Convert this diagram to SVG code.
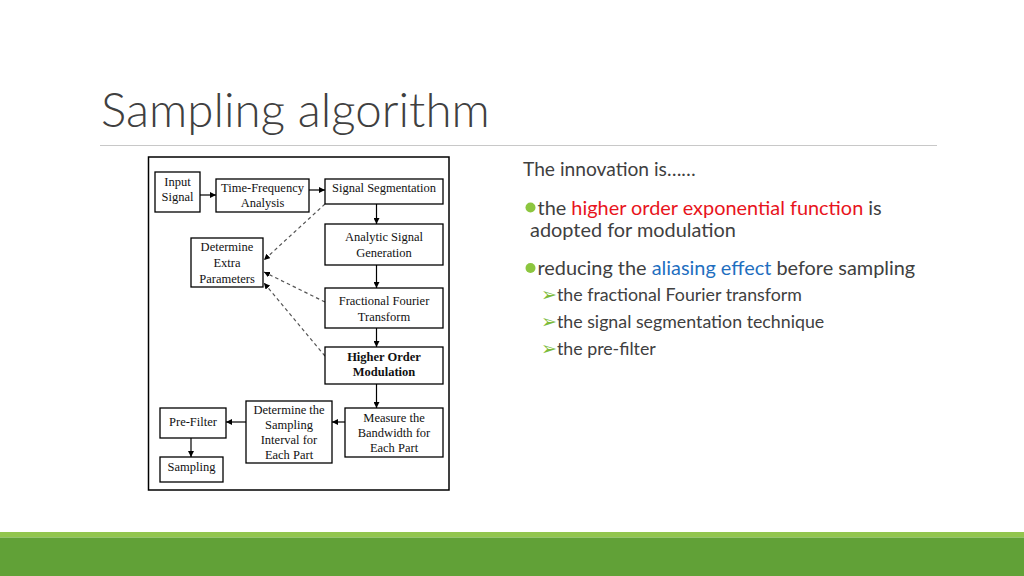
<svg xmlns="http://www.w3.org/2000/svg" width="1024" height="576" viewBox="0 0 1024 576">
<style>
.title{font-family:Lato,"Open Sans",sans-serif;font-weight:300;font-size:47.5px;fill:#404040}
.box{fill:#fff;stroke:#000;stroke-width:1.3}
.lbl{font-family:"Liberation Serif","Times New Roman",serif;font-size:12.5px;fill:#111;text-anchor:middle}
.bold{font-weight:bold}
.conn{stroke:#000;stroke-width:1.2;fill:none}
.dash{stroke:#555;stroke-width:1.2;fill:none;stroke-dasharray:3.5 3}
.body{font-family:Lato,"Open Sans",sans-serif;fill:#404040}
.red{fill:#e8141c}
.blue{fill:#1f6fbf}
.arr{fill:#7cbb3a;font-family:"DejaVu Sans",sans-serif}
</style>
<defs>
<marker id="ah" viewBox="0 0 10 10" refX="10" refY="5" markerWidth="6" markerHeight="6" markerUnits="userSpaceOnUse" orient="auto">
<path d="M0,0 L10,5 L0,10 z" fill="#000"/>
</marker>
</defs>
<rect width="1024" height="576" fill="#fff"/>
<text class="title" x="101" y="127">Sampling algorithm</text>
<line x1="100" y1="145.5" x2="937" y2="145.5" stroke="#c8c8c8" stroke-width="1.2"/>

<rect x="148.5" y="157" width="300.5" height="333" fill="#fff" stroke="#000" stroke-width="1.5"/>

<g id="connectors">
<line class="conn" x1="200" y1="195" x2="216" y2="195" marker-end="url(#ah)"/>
<line class="conn" x1="309" y1="190" x2="325" y2="190" marker-end="url(#ah)"/>
<line class="conn" x1="376.5" y1="204" x2="376.5" y2="224" marker-end="url(#ah)"/>
<line class="conn" x1="376.5" y1="265" x2="376.5" y2="288" marker-end="url(#ah)"/>
<line class="conn" x1="376.5" y1="328" x2="376.5" y2="347" marker-end="url(#ah)"/>
<line class="conn" x1="376.5" y1="384" x2="376.5" y2="408" marker-end="url(#ah)"/>
<line class="conn" x1="345" y1="422" x2="332" y2="422" marker-end="url(#ah)"/>
<line class="conn" x1="246" y1="422" x2="226" y2="422" marker-end="url(#ah)"/>
<line class="conn" x1="191" y1="438" x2="191" y2="457" marker-end="url(#ah)"/>
<line class="dash" x1="325" y1="204" x2="264" y2="260" marker-end="url(#ah)"/>
<line class="dash" x1="325" y1="302" x2="264" y2="272" marker-end="url(#ah)"/>
<line class="dash" x1="325" y1="356" x2="264" y2="283" marker-end="url(#ah)"/>
</g>

<g id="input-signal"><rect class="box" x="155" y="172" width="45" height="40"/>
<text class="lbl" x="177.5" y="185.5">Input</text><text class="lbl" x="177.5" y="200.5">Signal</text></g>
<g id="time-frequency"><rect class="box" x="216" y="179" width="93" height="33"/>
<text class="lbl" x="262.5" y="191.5">Time-Frequency</text><text class="lbl" x="262.5" y="207">Analysis</text></g>
<g id="signal-segmentation"><rect class="box" x="325" y="179" width="118" height="25"/>
<text class="lbl" x="384" y="192">Signal Segmentation</text></g>
<g id="analytic-signal"><rect class="box" x="325" y="224" width="118" height="41"/>
<text class="lbl" x="384" y="241">Analytic Signal</text><text class="lbl" x="384" y="256.5">Generation</text></g>
<g id="extra-parameters"><rect class="box" x="191" y="238" width="72" height="49"/>
<text class="lbl" x="227" y="250.5">Determine</text><text class="lbl" x="227" y="267">Extra</text><text class="lbl" x="227" y="283">Parameters</text></g>
<g id="fractional-fourier"><rect class="box" x="325" y="288" width="118" height="40"/>
<text class="lbl" x="384" y="305">Fractional Fourier</text><text class="lbl" x="384" y="320.5">Transform</text></g>
<g id="higher-order"><rect class="box" x="325" y="347" width="118" height="37" stroke-width="1.6"/>
<text class="lbl bold" x="384" y="360.5">Higher Order</text><text class="lbl bold" x="384" y="376">Modulation</text></g>
<g id="measure-bandwidth"><rect class="box" x="345" y="408" width="98" height="49"/>
<text class="lbl" x="394" y="422">Measure the</text><text class="lbl" x="394" y="437">Bandwidth for</text><text class="lbl" x="394" y="452">Each Part</text></g>
<g id="sampling-interval"><rect class="box" x="246" y="401" width="86" height="62"/>
<text class="lbl" x="289" y="414">Determine the</text><text class="lbl" x="289" y="429">Sampling</text><text class="lbl" x="289" y="444">Interval for</text><text class="lbl" x="289" y="459">Each Part</text></g>
<g id="pre-filter"><rect class="box" x="160" y="408" width="66" height="30"/>
<text class="lbl" x="193" y="425.5">Pre-Filter</text></g>
<g id="sampling"><rect class="box" x="160" y="457" width="63" height="25"/>
<text class="lbl" x="191.5" y="470.5">Sampling</text></g>

<text class="body" x="523" y="176" font-size="19.2">The innovation is……</text>
<circle cx="530.5" cy="207.5" r="5" fill="#8cc63f"/>
<text class="body" x="537.5" y="214.5" font-size="19.9">the <tspan class="red">higher order exponential function</tspan> is</text>
<text class="body" x="530" y="237" font-size="19.9">adopted for modulation</text>
<circle cx="530.5" cy="268" r="5" fill="#8cc63f"/>
<text class="body" x="537.5" y="275" font-size="19.9">reducing the <tspan class="blue">aliasing effect</tspan> before sampling</text>
<text class="body" x="541" y="301" font-size="17.8"><tspan class="arr" font-size="19">➢</tspan>the fractional Fourier transform</text>
<text class="body" x="541" y="328" font-size="17.8"><tspan class="arr" font-size="19">➢</tspan>the signal segmentation technique</text>
<text class="body" x="541" y="355" font-size="17.8"><tspan class="arr" font-size="19">➢</tspan>the pre-filter</text>

<rect x="0" y="532" width="1024" height="5.5" fill="#92c54e"/>
<rect x="0" y="537.5" width="1024" height="38.5" fill="#61a137"/>
</svg>
